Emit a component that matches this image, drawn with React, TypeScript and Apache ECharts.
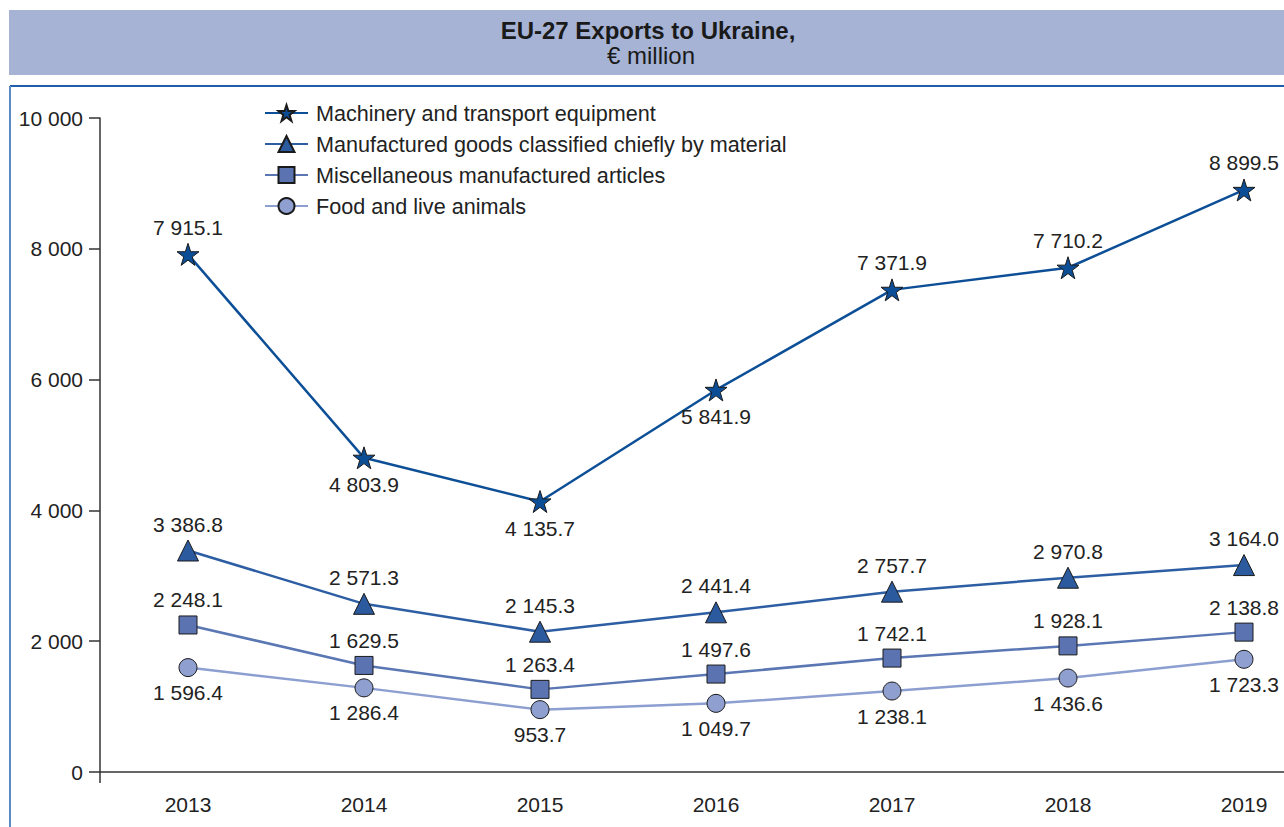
import React, { useEffect, useRef } from "react";
import * as echarts from "echarts";

const years = ["2013", "2014", "2015", "2016", "2017", "2018", "2019"];
const machinery = [7915.1, 4803.9, 4135.7, 5841.9, 7371.9, 7710.2, 8899.5];
const manufactured = [3386.8, 2571.3, 2145.3, 2441.4, 2757.7, 2970.8, 3164.0];
const miscellaneous = [2248.1, 1629.5, 1263.4, 1497.6, 1742.1, 1928.1, 2138.8];
const food = [1596.4, 1286.4, 953.7, 1049.7, 1238.1, 1436.6, 1723.3];
const machineryLabelPos = ["top", "bottom", "bottom", "bottom", "top", "top", "top"];

const seriesNames = [
  "Machinery and transport equipment",
  "Manufactured goods classified chiefly by material",
  "Miscellaneous manufactured articles",
  "Food and live animals",
];

const fmt = (v: number, dec: number) => {
  const s = v.toFixed(dec);
  const [i, d] = s.split(".");
  const ii = i.replace(/\B(?=(\d{3})+(?!\d))/g, " ");
  return d ? ii + "." + d : ii;
};

const FONT = "'Liberation Sans', Arial, Helvetica, sans-serif";
const FS = 21;

export default function App() {
  const ref = useRef<HTMLDivElement>(null);
  useEffect(() => {
    if (!ref.current) return;
    const chart = echarts.init(ref.current, null, { renderer: "svg" });
    const labelBase = {
      show: true,
      fontSize: FS,
      fontFamily: FONT,
      color: "#222",
      distance: 5,
      formatter: (p: any) => fmt(p.value, 1),
    };
    const mk = (
      name: string,
      data: number[],
      color: string,
      lineColor: string,
      symbol: string,
      size: number,
      pos: string | string[]
    ) => ({
      name,
      type: "line",
      data: data.map((v, i) => ({
        value: v,
        label: { position: Array.isArray(pos) ? pos[i] : pos },
      })),
      symbol,
      symbolSize: size,
      lineStyle: { color: lineColor, width: 2.5 },
      itemStyle: { color, borderColor: "#1a1a1a", borderWidth: 1 },
      label: labelBase,
      z: 3,
    });
    chart.setOption({
      animation: false,
      textStyle: { fontFamily: FONT },
      grid: { left: 100, top: 118, bottom: 55, right: 0, containLabel: false },
      legend: {
        orient: "vertical",
        left: 264,
        top: 102,
        padding: 0,
        itemWidth: 43,
        itemHeight: 20,
        itemGap: 9,
        textStyle: { fontSize: 21.6, color: "#222", fontFamily: FONT, padding: [0, 0, 0, 3], lineHeight: 22 },
        data: seriesNames,
      },
      xAxis: {
        type: "category",
        data: years,
        boundaryGap: true,
        axisLine: { lineStyle: { color: "#333", width: 1.5 } },
        axisTick: { alignWithLabel: true, length: 11, lineStyle: { color: "#333", width: 1.5 } },
        axisLabel: { fontSize: FS, color: "#222", margin: 22, fontFamily: FONT },
      },
      yAxis: {
        type: "value",
        min: 0,
        max: 10000,
        interval: 2000,
        splitLine: { show: false },
        axisLine: { show: true, lineStyle: { color: "#333", width: 1.5 } },
        axisTick: { show: true, length: 11, lineStyle: { color: "#333", width: 1.5 } },
        axisLabel: {
          fontSize: FS,
          color: "#222",
          margin: 17,
          fontFamily: FONT,
          formatter: (v: number) => fmt(v, 0),
        },
      },
      graphic: [
        {
          type: "rect",
          shape: { x: 9, y: 10, width: 1330, height: 65 },
          style: { fill: "#a6b3d5" },
          silent: true,
        },
        {
          type: "text",
          x: 648,
          y: 30,
          style: {
            text: "EU-27 Exports to Ukraine,",
            font: `bold 24px ${FONT}`,
            lineHeight: 24,
            fill: "#1a1a1a",
            align: "center",
            verticalAlign: "middle",
          },
        },
        {
          type: "text",
          x: 651,
          y: 55,
          style: {
            text: "€ million",
            font: `24px ${FONT}`,
            lineHeight: 24,
            fill: "#1a1a1a",
            align: "center",
            verticalAlign: "middle",
          },
        },
        {
          type: "line",
          shape: { x1: 10, y1: 86, x2: 1340, y2: 86 },
          style: { stroke: "#1f5ea8", lineWidth: 2 },
        },
        {
          type: "line",
          shape: { x1: 10, y1: 86, x2: 10, y2: 830 },
          style: { stroke: "#5b8ac6", lineWidth: 2 },
        },
        {
          type: "line",
          shape: { x1: 100, y1: 772, x2: 100, y2: 783 },
          style: { stroke: "#333", lineWidth: 1.5 },
        },
      ],
      series: [
        mk(seriesNames[3], food, "#8f9fcf", "#8c9fd0", "circle", 18, "bottom"),
        mk(seriesNames[2], miscellaneous, "#5b74b1", "#5a76b3", "rect", 18, "top"),
        mk(seriesNames[1], manufactured, "#2c5a9e", "#2d5ea3", "triangle", 21, "top"),
        mk(seriesNames[0], machinery, "#0c4e96", "#0d4f97", "path://M50,0 L61.8,35.4 L99,35.4 L69,57.3 L80.4,93 L50,71 L19.6,93 L31,57.3 L1,35.4 L38.2,35.4 Z", 22, machineryLabelPos),
      ],
    });
    return () => chart.dispose();
  }, []);
  return (
    <div style={{ position: "absolute", left: 0, top: 0, width: 1284, height: 827, overflow: "hidden", background: "#fff" }}>
      <div ref={ref} style={{ position: "absolute", left: 0, top: 0, width: 1332, height: 827 }} />
    </div>
  );
}
